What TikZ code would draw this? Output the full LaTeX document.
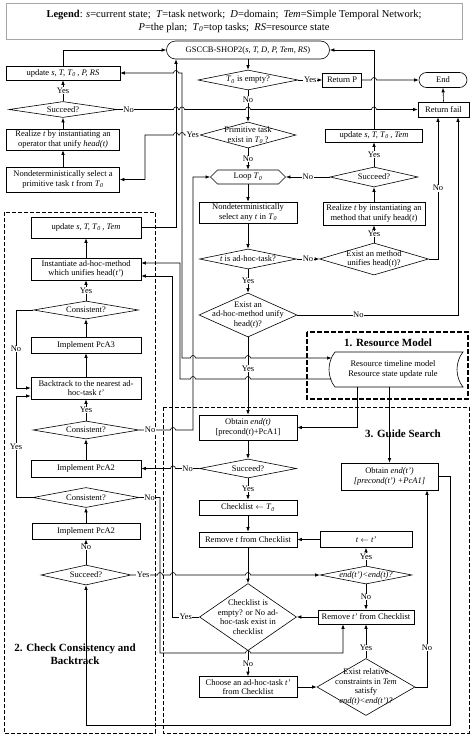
\documentclass[tikz,border=0pt]{standalone}
\usepackage{fontspec}
\setmainfont{Liberation Serif}
\usetikzlibrary{positioning,shapes.geometric,shapes.misc,shapes.symbols,arrows.meta,calc}

\newcommand{\fsmall}{\fontsize{8.5}{9.5}\selectfont}
\newcommand{\fbig}{\fontsize{11}{13}\selectfont}
\newcommand{\Tz}{\textit{T}\textsubscript{\textit{0}}}
% small bumps where a line jumps over another one
\newcommand{\hopR}[2]{-- (#1-2.5,#2) arc[start angle=180,end angle=0,radius=2.5pt]}
\newcommand{\hopL}[2]{-- (#1+2.5,#2) arc[start angle=0,end angle=180,radius=2.5pt]}

\tikzset{
  box/.style={draw, rectangle, align=center, inner sep=1pt, font=\fsmall},
  term/.style={draw, rounded rectangle, inner sep=1pt, font=\fsmall},
  dia/.style={draw, diamond, inner sep=0pt},
  dtxt/.style={align=center, inner sep=0pt, font=\fsmall},
  lab/.style={fill=white, inner sep=0.6pt, font=\fsmall},
  grp/.style={draw, line width=0.8pt, dash pattern=on 4pt off 2pt},
  ttl/.style={font=\fbig\bfseries, align=center},
}

\begin{document}
\begin{tikzpicture}[x=1pt, y=-1pt, line width=0.6pt, >={Latex[length=4.5pt,width=3.5pt]}]
    \fill[white] (0,0) rectangle (474,736);
    \useasboundingbox (0,0) rectangle (474,736);

    % groups
    \draw[grp, line width=1.1pt, dash pattern=on 5pt off 2pt] (307,332) rectangle (468,399);
    \draw[grp] (4,212) rectangle (155,733);
    \draw[grp] (163,407) rectangle (469,733);
    \node[ttl] (t1) at (388,343) {1. Resource Model};
    \node[ttl] (t2) at (75,654) {2. Check Consistency and\\Backtrack};
    \node[ttl] (t3) at (403,434) {3. Guide Search};

    % legend
    \node[draw=black!35, minimum width=456pt, minimum height=36pt, align=center, font=\fontsize{10.5}{13}\selectfont] (legend) at (234,21) {\textbf{Legend}: \textit{s}=current state;\enspace \textit{T}=task network;\enspace \textit{D}=domain;\enspace \textit{Tem}=Simple Temporal Network;\\ \textit{P}=the plan;\enspace \Tz=top tasks;\enspace \textit{RS}=resource state};

    % main loop
    \node[term, minimum width=165pt, minimum height=18pt] (gsccb) at (248,50) {GSCCB-SHOP2(\textit{s, T, D, P, Tem, RS})};
    \node[dia, minimum width=100pt, minimum height=20pt, label={[dtxt]center:\Tz{} is empty?}] (empty) at (248,80) {};
    \node[box, minimum width=39pt, minimum height=14pt] (retP) at (342,80) {Return P};
    \node[term, minimum width=50pt, minimum height=15pt] (endN) at (443,80) {End};
    \node[box, minimum width=51pt, minimum height=15pt] (retF) at (443.5,109.5) {Return fail};
    \node[dia, minimum width=96pt, minimum height=26pt, label={[dtxt]center:{Primitive task\\exist in \Tz\,?}}] (prim) at (248,135) {};
    \node[signal, signal to=west and east, draw, minimum width=75pt, minimum height=14pt, inner sep=0pt, font=\fsmall] (loop) at (248,177) {Loop \Tz};
    \node[box, minimum width=98pt, minimum height=21pt] (nondetA) at (248,212.5) {Nondeterministically\\select any \textit{t} in \Tz};
    \node[dia, minimum width=97pt, minimum height=20pt, label={[dtxt]center:\textit{t} is ad-hoc-task?}] (isAdhoc) at (248,259) {};
    \node[dia, minimum width=98pt, minimum height=44pt, label={[dtxt]center:{Exist an\\ad-hoc-method unify\\head(\textit{t})?}}] (exAdhoc) at (248,315) {};

    % method branch
    \node[box, minimum width=97pt, minimum height=13pt] (upR) at (374,135.5) {update \textit{s, T, T}\textsubscript{\textit{0}}\,\textit{, Tem}};
    \node[dia, minimum width=88pt, minimum height=20pt, label={[dtxt]center:Succeed?}] (sucR) at (374,177) {};
    \node[box, minimum width=102pt, minimum height=23pt] (realM) at (374,213.5) {Realize \textit{t} by instantiating an\\method that unify head(\textit{t})};
    \node[dia, minimum width=109pt, minimum height=32pt, label={[dtxt]center:{Exist an method\\unifies head(\textit{t})?}}] (exM) at (374,259) {};

    % operator branch
    \node[box, minimum width=114pt, minimum height=14pt] (upP) at (63,73) {update \textit{s, T, T}\textsubscript{\textit{0}}\,\textit{, P, RS}};
    \node[dia, minimum width=108pt, minimum height=16pt, label={[dtxt]center:Succeed?}] (sucL) at (63,109.5) {};
    \node[box, minimum width=113pt, minimum height=21pt] (realOp) at (63,139.5) {Realize \textit{t} by instantiating an\\operator that unify \textit{head(t)}};
    \node[box, minimum width=113pt, minimum height=25pt] (nondetP) at (63,179.5) {Nondeterministically select a\\primitive task \textit{t} from \Tz};

    % check consistency and backtrack
    \node[box, minimum width=110pt, minimum height=21pt] (upL) at (86,227.5) {update \textit{s, T, T}\textsubscript{\textit{0}}\,\textit{, Tem}};
    \node[box, minimum width=110pt, minimum height=22pt] (inst) at (86,269) {Instantiate ad-hoc-method\\which unifies head(\textit{t'})};
    \node[dia, minimum width=105pt, minimum height=18pt, label={[dtxt]center:Consistent?}] (con1) at (86,310) {};
    \node[box, minimum width=110pt, minimum height=16pt] (pca3) at (86,345) {Implement PcA3};
    \node[box, minimum width=110pt, minimum height=22pt] (back) at (86,388) {Backtrack to the nearest ad-\\hoc-task \textit{t'}};
    \node[dia, minimum width=106pt, minimum height=18pt, label={[dtxt]center:Consistent?}] (con2) at (86,430) {};
    \node[box, minimum width=110pt, minimum height=17pt] (pca2a) at (86,468.5) {Implement PcA2};
    \node[dia, minimum width=106pt, minimum height=20pt, label={[dtxt]center:Consistent?}] (con3) at (86,497.5) {};
    \node[box, minimum width=108pt, minimum height=16pt] (pca2b) at (86,531) {Implement PcA2};
    \node[dia, minimum width=90pt, minimum height=20pt, label={[dtxt]center:Succeed?}] (sucB) at (86,575) {};

    % guide search
    \node[box, minimum width=98pt, minimum height=25pt] (obt) at (248,427.5) {Obtain \textit{end(t)}\\{}[precond(\textit{t})+PcA1]};
    \node[dia, minimum width=97pt, minimum height=19pt, label={[dtxt]center:Succeed?}] (sucG) at (248,468.5) {};
    \node[box, minimum width=98pt, minimum height=15pt] (chk) at (248,507.5) {Checklist $\leftarrow$ \Tz};
    \node[box, minimum width=98pt, minimum height=15pt] (remT) at (248,539.5) {Remove \textit{t} from Checklist};
    \node[box, minimum width=92pt, minimum height=16pt] (tt) at (366,539.5) {\textit{t} $\leftarrow$ \textit{t'}};
    \node[dia, minimum width=92pt, minimum height=18pt, label={[dtxt]center:\textit{end(t')<end(t)?}}] (cmp) at (366,575) {};
    \node[box, minimum width=96pt, minimum height=14pt] (remTp) at (366,617) {Remove \textit{t'} from Checklist};
    \node[dia, minimum width=97pt, minimum height=67pt, label={[dtxt]center:{Checklist is\\empty? or No ad-\\hoc-task exist in\\checklist}}] (empt) at (248,617) {};
    \node[box, minimum width=98pt, minimum height=21pt] (choose) at (248,687) {Choose an ad-hoc-task \textit{t'}\\from Checklist};
    \node[dia, minimum width=98pt, minimum height=57pt, label={[dtxt]center:{Exist relative\\constraints in \textit{Tem}\\satisfy\\\textit{end(t)<end(t')?}}}] (rel) at (366,687) {};
    \node[box, minimum width=97pt, minimum height=27pt] (obtP) at (389.5,476.5) {Obtain \textit{end(t')}\\\textit{[precond(t') +PcA1]}};

    % resource model
    \draw (335,352) -- (463,352) .. controls (455,362) and (455,377) .. (463,387) -- (335,387) .. controls (327,377) and (327,362) .. (335,352);
    \node[font=\fsmall, align=center, inner sep=0pt] (res) at (393,369.5) {Resource timeline model\\Resource state update rule};
    \coordinate (resIn) at (331.5,358);
    \coordinate (resOut) at (331.3,379);
    \coordinate (resB1) at (357,387);
    \coordinate (resB2) at (389.5,387);

    % connectors: main loop
    \draw[->] (gsccb.south) -- (empty.north);
    \draw[->] (empty.east) -- node[lab]{Yes} (retP.west);
    \draw[->] (retP.east) \hopR{374}{80} -- (endN.west);
    \draw[->] (retF.north) -- (endN.south);
    \draw[->] (empty.south) -- node[lab,pos=0.3]{No} (prim.north);
    \draw[->] (prim.south) -- node[lab]{No} (loop.north);
    \draw[->] (loop.south) -- (nondetA.north);
    \draw[->] (nondetA.south) -- (isAdhoc.north);
    \draw[->] (isAdhoc.east) -- node[lab]{No} (exM.west);
    \draw[->] (isAdhoc.south) -- node[lab]{Yes} (exAdhoc.north);
    \draw[->] (exAdhoc.east) -| node[lab,pos=0.19]{No} ([xshift=14.5pt]retF.south);
    \draw[->] (exAdhoc.south) -- node[lab,pos=0.4]{Yes} (obt.north);

    % connectors: method branch
    \draw[->] (upR.north) |- (gsccb.east);
    \draw[->] (sucR.north) -- node[lab]{Yes} (upR.south);
    \draw[->] (sucR.west) -- node[lab]{No} (loop.east);
    \draw[->] (realM.north) -- (sucR.south);
    \draw[->] (exM.north) -- node[lab]{Yes} (realM.south);
    \draw[->] (exM.east) -| node[lab,pos=0.75]{No} ([xshift=-5.5pt]retF.south);

    % connectors: operator branch
    \draw[->] (upP.north) |- (gsccb.west);
    \draw[->] (sucL.north) -- node[lab]{Yes} (upP.south);
    \draw[->] (realOp.north) -- (sucL.south);
    \draw[->] (nondetP.north) -- (realOp.south);
    \draw[->] (prim.west) -- node[lab]{Yes} (186,135) \hopL{182}{135} \hopL{176}{135} -- (145,135) |- (nondetP.east);
    \draw[->] (sucL.east) -- node[lab]{No} (140,109.5) \hopR{176}{109.5} \hopR{182}{109.5} \hopR{248}{109.5} \hopR{374}{109.5} -- (retF.west);

    % connectors: resource model
    \draw[<->] (upP.east) \hopR{176}{73} -- (182,73) -- (182,358) \hopR{193}{358} \hopR{248}{358} -- (resIn);
    \draw[->] (resOut) \hopL{248}{379} \hopL{193}{379} -- (180,379) |- ([yshift=6pt]inst.east);
    \draw[->] (resB1) |- (obt.east);
    \draw[->] (resB2) -- (obtP.north);

    % connectors: check consistency and backtrack
    \draw[->] (upL.east) -| ([xshift=-72pt]gsccb.south);
    \draw[->] (inst.north) -- (upL.south);
    \draw[->] (con1.north) -- node[lab]{Yes} (inst.south);
    \draw[->] (pca3.north) -- (con1.south);
    \draw[->] (back.north) -- (pca3.south);
    \draw[->] (con1.west) -- (16,310) -- node[lab]{No} (16,388) -- (back.west);
    \draw[->] (con2.north) -- node[lab]{Yes} (back.south);
    \draw[->] (pca2a.north) -- (con2.south);
    \draw[->] (con3.west) -- (16,497.5) -- node[lab]{Yes} (16,396) -- ([yshift=-8pt]back.west);
    \draw[->] (pca2b.north) -- (con3.south);
    \draw[->] (sucB.north) -- node[lab,pos=0.7]{No} (pca2b.south);
    \draw[->] (con2.east) -- node[lab]{No} (161,430) \hopR{173}{430} -- (193,430) |- (loop.west);
    \draw[->] (con3.east) -- node[lab]{No} (160,497.5) -- (160,653) \hopR{248}{653} -| ([xshift=-23pt]remTp.south);
    \draw[->] (sucB.east) -- node[lab]{Yes} (155,575) \hopR{160}{575} \hopR{173}{575} \hopR{248}{575} -- (cmp.west);
    \draw[->] (empt.west) -- node[lab]{Yes} ++(-27,0) |- ([yshift=-7pt]inst.east);
    \draw[->] (sucG.west) -- node[lab]{No} (176,468.5) \hopL{173}{468.5} -- (pca2a.east);
    \draw[->] (obtP.east) -| (450,725) -| (sucB.south);

    % connectors: guide search
    \draw[->] (obt.south) -- (sucG.north);
    \draw[->] (sucG.south) -- node[lab]{Yes} (chk.north);
    \draw[->] (chk.south) -- (remT.north);
    \draw[->] (remT.south) -- (empt.north);
    \draw[->] (tt.west) -- (remT.east);
    \draw[->] (cmp.north) -- node[lab]{Yes} (tt.south);
    \draw[->] (cmp.south) -- node[lab]{No} (remTp.north);
    \draw[->] (remTp.west) -- (empt.east);
    \draw[->] (empt.south) -- node[lab]{No} (choose.north);
    \draw[->] (choose.east) -- (rel.west);
    \draw[->] (rel.north) -- node[lab,pos=0.3]{Yes} (remTp.south);
    \draw[->] (rel.east) -| node[lab,pos=0.6]{No} ([xshift=37.5pt]obtP.south);
\end{tikzpicture}
\end{document}
